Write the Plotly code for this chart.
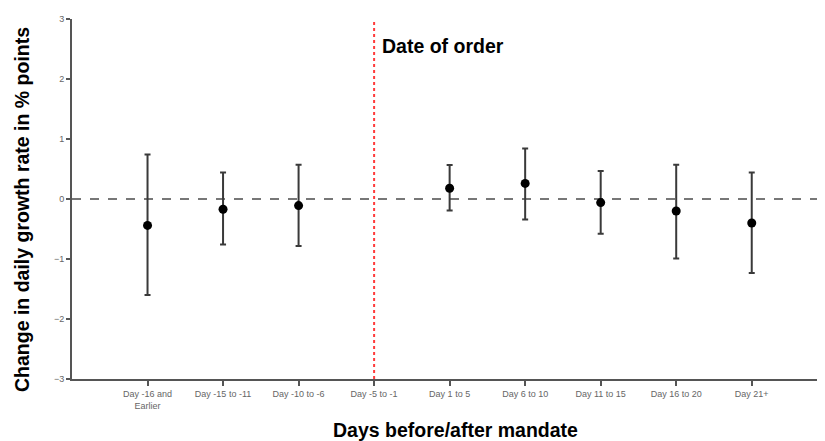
import plotly.graph_objects as go

categories = ["Day -16 and<br>Earlier", "Day -15 to -11", "Day -10 to -6", "Day -5 to -1",
              "Day 1 to 5", "Day 6 to 10", "Day 11 to 15", "Day 16 to 20", "Day 21+"]
estimate = [-0.44, -0.17, -0.11, None, 0.18, 0.26, -0.06, -0.20, -0.40]
upper = [0.74, 0.44, 0.57, None, 0.565, 0.84, 0.465, 0.57, 0.44]
lower = [-1.60, -0.76, -0.785, None, -0.19, -0.34, -0.58, -0.99, -1.235]
order_category = "Day -5 to -1"
y_ticks = [-3, -2, -1, 0, 1, 2, 3]

xs = list(range(len(categories)))
err_plus = [None if e is None else u - e for e, u in zip(estimate, upper)]
err_minus = [None if e is None else e - l for e, l in zip(estimate, lower)]
order_idx = categories.index(order_category)

fig = go.Figure()
fig.add_trace(go.Scatter(
    x=xs, y=estimate, mode="markers",
    marker=dict(color="black", size=9),
    error_y=dict(type="data", array=err_plus, arrayminus=err_minus,
                 color="#3a3a3a", thickness=2, width=3),
    showlegend=False,
))

fig.add_shape(type="line", xref="paper", x0=0, x1=1, yref="y", y0=0, y1=0,
              line=dict(color="#777777", width=2, dash="dash"), layer="below")
fig.add_shape(type="line", xref="x", x0=order_idx, x1=order_idx, yref="y",
              y0=y_ticks[0], y1=y_ticks[-1],
              line=dict(color="#ff3b3b", width=2, dash="dot"))

title_font = dict(family="Liberation Sans, Arial", size=19.5, color="black")

fig.add_annotation(x=order_idx, y=2.55, xref="x", yref="y", text="<b>Date of order</b>",
                   showarrow=False, xanchor="left", xshift=6, font=title_font)
fig.add_annotation(x=0, y=0.5, xref="paper", yref="paper",
                   text="<b>Change in daily growth rate in % points</b>",
                   textangle=-90, showarrow=False, xanchor="center", yanchor="middle",
                   xshift=-50, yshift=-11, font=title_font)
fig.add_annotation(x=0.5, y=0, xref="paper", yref="paper",
                   text="<b>Days before/after mandate</b>",
                   showarrow=False, xanchor="center", yanchor="middle",
                   xshift=7, yshift=-51, font=title_font)

tick_font = dict(family="Liberation Sans, Arial", size=9, color="#666666")
fig.update_xaxes(range=[-1, 8.97], tickvals=xs, ticktext=categories,
                 showline=True, linecolor="#555555", linewidth=2,
                 ticks="outside", ticklen=5, tickwidth=2, tickcolor="#555555",
                 showgrid=False, zeroline=False, tickfont=tick_font)
fig.update_yaxes(range=[-3, 3], tickvals=y_ticks,
                 showline=True, linecolor="#555555", linewidth=2,
                 ticks="outside", ticklen=4, tickwidth=2, tickcolor="#555555",
                 showgrid=False, zeroline=False, tickfont=tick_font)

fig.update_layout(width=825, height=441, margin=dict(l=64, r=8, t=6, b=70),
                  plot_bgcolor="white", paper_bgcolor="white")

fig.write_html("out.html")
